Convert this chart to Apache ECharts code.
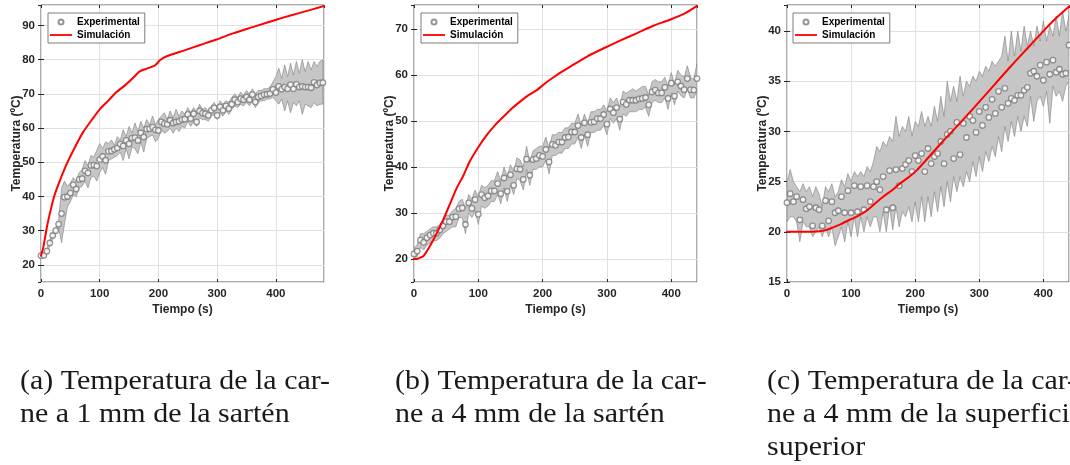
<!DOCTYPE html>
<html><head><meta charset="utf-8">
<script src="https://cdn.jsdelivr.net/npm/echarts@6/dist/echarts.min.js"></script>
<style>html,body{margin:0;padding:0;background:#fff}#c{width:1070px;height:465px}</style>
</head><body><div id="c"></div><script>
// ---- Data ----
const timeA = [0,5,10,15,20,25,30,35,40,45,50,55,60,65,70,75,80,85,90,95,100,105,110,115,120,125,130,135,140,145,150,155,160,165,170,175,180,185,190,195,200,205,210,215,220,225,230,235,240,245,250,255,260,265,270,275,280,285,290,295,300,305,310,315,320,325,330,335,340,345,350,355,360,365,370,375,380,385,390,395,400,405,410,415,420,425,430,435,440,445,450,455,460,465,470,475,480];
const timeBC = [0,5,10,15,20,25,30,35,40,45,50,55,60,65,70,75,80,85,90,95,100,105,110,115,120,125,130,135,140,145,150,155,160,165,170,175,180,185,190,195,200,205,210,215,220,225,230,235,240,245,250,255,260,265,270,275,280,285,290,295,300,305,310,315,320,325,330,335,340,345,350,355,360,365,370,375,380,385,390,395,400,405,410,415,420,425,430,435,440];

// Panel (a): 1 mm from pan
const expA = [22.7,22.8,24.0,26.4,28.6,30.0,31.9,35.0,39.8,40.0,
  41.0,43.4,42.2,45.0,45.2,47.5,46.9,49.1,49.2,48.9,
  50.8,51.7,50.6,53.2,53.3,53.8,54.2,55.3,54.8,56.4,
  55.4,57.1,57.2,56.4,58.6,57.4,59.7,59.8,60.3,59.5,
  59.3,61.8,61.3,61.1,62.3,61.5,61.8,62.0,62.5,62.6,
  64.0,62.8,64.2,61.8,65.0,64.4,64.2,63.7,65.2,65.9,
  63.7,66.2,65.2,66.5,65.7,67.0,68.3,67.6,68.6,68.3,
  69.1,68.3,69.8,67.6,69.1,69.4,69.8,69.9,70.1,71.3,
  70.4,72.2,71.4,72.0,71.5,72.7,71.5,72.8,72.0,72.2,
  72.0,72.0,71.8,73.4,72.6,73.2,73.3];
const hiA = [23.2,23.4,24.8,27.2,29.4,30.8,33.0,42.5,44.5,43.0,
  44.0,45.5,44.5,47.0,47.8,50.5,49.0,52.0,51.5,53.5,
  55.5,54.0,56.0,55.5,56.5,55.0,57.5,56.5,59.5,57.5,
  60.5,58.5,61.5,59.0,62.0,60.0,62.5,61.0,63.5,61.0,
  62.5,63.5,64.5,62.5,65.0,63.0,65.5,63.5,65.0,64.0,
  66.0,64.5,66.0,64.5,67.0,65.5,66.0,65.0,66.5,67.5,
  66.0,68.0,67.0,68.0,67.5,69.0,70.0,69.0,70.5,69.5,
  71.0,70.0,71.5,70.0,71.0,71.0,71.5,71.5,72.0,73.5,
  75.0,77.5,74.5,78.5,75.0,79.0,75.5,79.5,76.0,80.0,
  76.5,79.5,77.0,79.5,78.0,79.5,80.0];
const loA = [22.2,22.3,23.4,25.6,27.8,29.2,30.8,26.5,32.0,37.0,
  38.5,40.5,40.0,42.5,43.0,44.5,42.5,45.5,46.0,44.5,
  47.0,48.5,46.5,50.5,51.0,51.5,52.0,53.0,50.5,54.0,
  51.0,54.5,54.0,52.5,56.0,53.0,57.0,57.5,58.0,56.0,
  57.0,59.5,58.5,59.0,60.0,58.5,60.0,59.0,60.5,60.0,
  62.0,60.5,62.0,60.5,63.0,62.5,62.5,62.0,63.5,64.0,
  62.5,64.5,63.5,65.0,64.0,65.5,66.5,66.0,67.0,66.5,
  67.5,66.5,68.0,66.0,67.5,68.0,68.0,68.5,68.5,69.0,
  68.0,67.0,68.5,65.0,68.0,64.5,67.5,66.5,68.0,64.0,
  67.0,66.5,66.0,67.5,66.5,67.0,67.0];
const simTA = [0,4,10,15,22,30,44,58,72,86,100,115,129,143,157,168,180,194,203,214,242,271,299,327,356,384,412,441,482];
const simVA = [22.7,25.2,31.0,35.0,39.8,43.7,49.6,54.5,58.9,62.3,65.5,68.1,70.6,72.5,74.7,76.6,77.4,78.3,79.9,81.0,82.6,84.3,85.9,87.7,89.3,90.8,92.3,93.7,95.7];

// Panel (b): 4 mm from pan
const expB = [21.1,21.7,24.1,23.6,24.6,25.2,25.6,25.6,26.3,27.2,
  28.1,28.1,29.1,29.2,30.9,31.1,27.5,32.2,31.0,32.9,
  29.7,34.0,33.3,33.7,34.8,34.8,36.4,34.2,37.6,34.7,
  38.3,36.0,39.6,39.5,37.3,41.7,38.2,41.6,41.8,42.5,
  42.3,43.8,41.1,44.9,44.7,45.4,45.4,46.4,46.5,47.6,
  47.6,49.0,46.4,49.6,47.0,49.7,49.8,50.5,50.5,51.4,
  49.3,52.6,51.8,52.9,50.4,54.1,53.6,54.5,54.5,54.5,
  54.8,54.9,55.1,53.5,56.3,56.7,56.1,56.1,57.3,54.9,
  58.2,55.4,58.5,57.6,56.8,59.2,56.8,56.7,59.2];
const hiB = [22.5,23.0,25.5,25.5,26.0,26.5,27.0,27.0,27.5,28.5,
  29.5,29.5,30.5,31.0,32.5,33.0,31.0,34.0,33.0,35.0,
  33.5,36.0,35.5,36.0,37.0,37.0,39.0,37.0,40.0,38.0,
  40.5,39.0,42.0,41.5,40.0,44.5,41.0,43.5,44.0,44.5,
  44.5,46.5,44.0,47.0,47.0,47.5,47.5,48.5,48.5,49.5,
  49.5,51.5,49.0,51.5,49.5,52.0,52.0,52.5,52.5,53.5,
  52.0,55.0,54.0,55.0,53.0,56.5,56.0,56.5,57.0,56.5,
  57.0,57.5,57.5,55.5,58.5,59.0,58.5,58.5,59.5,57.5,
  60.5,58.0,61.0,60.0,59.5,62.0,59.5,59.0,62.5];
const loB = [20.0,20.5,22.5,22.0,23.0,23.5,24.0,24.0,24.5,25.5,
  26.0,26.5,27.0,27.0,29.0,29.0,25.5,30.0,29.0,30.5,
  27.5,31.5,31.0,31.5,32.5,32.5,34.0,32.0,35.5,32.5,
  36.0,34.0,37.5,37.0,35.0,39.5,36.0,39.5,39.5,40.0,
  40.0,41.5,38.5,42.5,42.5,43.0,43.0,44.0,44.0,45.0,
  45.0,46.5,44.0,47.0,44.5,47.5,47.5,48.0,48.0,49.0,
  47.0,50.5,49.5,50.5,48.0,51.5,51.0,52.0,52.0,52.0,
  52.5,52.5,53.0,51.0,54.0,54.5,54.0,54.0,55.0,52.5,
  56.0,53.5,56.5,55.5,55.0,57.0,55.0,55.0,56.5];
const simTB = [0,4,10,15,25,35,46,56,66,77,87,100,113,126,139,152,165,178,191,204,217,230,243,269,295,321,347,372,398,424,440];
const simVB = [20.0,20.0,20.3,20.7,22.9,25.5,28.7,32.0,35.3,38.2,41.3,44.3,46.9,49.1,50.9,52.7,54.2,55.6,56.7,58.2,59.5,60.7,61.8,64.0,65.8,67.5,69.1,70.7,72.0,73.6,75.0];

// Panel (c): 4 mm from top surface
const expC = [22.9,23.8,23.0,23.5,21.2,23.2,22.3,22.5,20.6,22.4,
  22.2,20.6,23.1,21.1,23.0,21.9,22.1,23.5,21.9,24.1,
  21.9,24.6,22.0,24.5,22.2,24.6,23.0,24.5,25.0,24.2,
  25.5,22.2,26.1,22.4,26.2,24.6,26.3,26.7,27.1,26.0,
  27.6,27.1,27.8,26.0,28.3,26.8,27.5,27.8,29.0,26.8,
  29.7,30.0,27.3,30.9,27.7,30.8,29.4,31.5,31.1,29.9,
  32.0,30.6,32.4,31.4,33.2,31.8,34.0,32.4,34.3,32.8,
  33.3,33.1,33.6,33.6,34.1,34.4,35.8,36.0,35.5,36.6,
  35.1,36.9,35.7,37.1,35.9,36.2,35.7,35.8,38.6];
const hiC = [25.0,26.2,25.0,24.5,24.0,24.8,24.0,24.5,23.5,24.5,
  23.8,22.5,24.5,24.0,24.8,23.5,24.0,25.2,24.5,25.8,
  25.0,26.0,25.5,26.0,25.5,26.5,26.0,27.0,28.5,28.0,
  29.0,28.5,29.5,29.0,31.5,29.5,30.5,30.0,31.5,29.5,
  31.0,30.5,32.0,30.5,31.5,30.5,32.5,31.0,33.5,31.5,
  35.0,33.0,34.5,33.0,35.5,33.5,35.0,34.5,35.5,35.0,
  36.0,35.5,36.5,36.0,37.0,36.5,37.0,37.5,39.5,37.0,
  40.0,37.5,40.0,38.0,40.5,38.5,40.0,38.5,40.5,39.0,
  41.0,39.0,40.5,39.5,41.5,39.5,42.0,40.0,41.5];
const loC = [21.0,21.5,21.5,21.0,19.0,21.0,20.5,20.5,19.5,20.0,
  20.5,19.5,20.5,19.5,20.5,18.6,19.5,20.5,19.0,21.0,
  19.5,21.5,19.5,21.5,20.0,21.5,20.5,21.5,21.5,20.0,
  22.0,20.0,22.5,20.2,22.5,20.5,22.0,21.5,22.5,21.0,
  23.0,21.0,23.5,21.0,23.5,21.5,24.0,22.0,24.5,22.5,
  25.0,23.0,25.5,24.0,25.5,24.5,26.0,25.0,27.0,25.5,
  27.5,26.0,28.0,27.0,28.5,27.5,29.5,28.0,30.5,29.0,
  31.0,29.5,31.5,30.0,31.5,30.5,33.5,31.0,33.0,33.5,
  32.5,34.0,30.8,34.5,33.5,34.0,33.0,34.5,35.0];
const simTC = [0,30,50,60,72,85,98,111,124,137,150,163,176,189,202,215,240,268,295,320,345,371,400,420,441];
const simVC = [20.0,20.0,20.05,20.15,20.45,20.8,21.2,21.6,22.1,22.8,23.5,24.1,24.8,25.4,26.1,27.0,28.8,30.7,32.6,34.4,36.2,38.0,40.0,41.3,42.5];

const legendNames = ['Experimental', 'Simulación'];
const axisNames = {x: 'Tiempo (s)', y: 'Temperatura (ºC)'};
const captions = [
  '(a) Temperatura de la car-\nne a 1 mm de la sartén',
  '(b) Temperatura de la car-\nne a 4 mm de la sartén',
  '(c) Temperatura de la car-\nne a 4 mm de la superficie\nsuperior'
];

// ---- Layout ----
const panels = [
  {left: 41, top: 5, width: 283, height: 277, xmax: 482, ymin: 15, ymax: 96, ysplit: 8, yint: null, t: timeA, exp: expA, lo: loA, hi: hiA, st: simTA, sv: simVA, legLeft: 48, capLeft: 20},
  {left: 414, top: 5, width: 283, height: 277, xmax: 440, ymin: 15, ymax: 75.2, ysplit: 6, yint: null, t: timeBC, exp: expB, lo: loB, hi: hiB, st: simTB, sv: simVB, legLeft: 421, capLeft: 395},
  {left: 787, top: 5, width: 282, height: 277, xmax: 440, ymin: 15, ymax: 42.6, ysplit: 5, yint: 5, t: timeBC, exp: expC, lo: loC, hi: hiC, st: simTC, sv: simVC, legLeft: 793, capLeft: 767}
];

const AX = '#262626';
const labelStyle = {color: AX, fontFamily: 'Liberation Sans, Arial, sans-serif', fontWeight: 'bold', fontSize: 11.5};
const grids = [], xAxes = [], yAxes = [], series = [], legends = [], graphics = [];

panels.forEach((p, i) => {
  grids.push({left: p.left, top: p.top, width: p.width, height: p.height, show: true, borderColor: '#595959', borderWidth: 1, backgroundColor: 'transparent'});
  xAxes.push({type: 'value', gridIndex: i, min: 0, max: p.xmax, interval: 100, position: 'bottom',
    axisLine: {show: false}, axisTick: {show: true, inside: true, length: 3, lineStyle: {color: AX}},
    axisLabel: Object.assign({margin: 6, showMaxLabel: false}, labelStyle),
    splitLine: {show: true, lineStyle: {color: '#e0e0e0', width: 1}},
    name: axisNames.x, nameLocation: 'middle', nameGap: 22, nameMoveOverlap: false,
    nameTextStyle: Object.assign({}, labelStyle, {fontSize: 12})});
  const y = {type: 'value', gridIndex: i, min: p.ymin, max: p.ymax, position: 'left',
    axisLine: {show: false}, axisTick: {show: true, inside: true, length: 3, lineStyle: {color: AX}},
    axisLabel: Object.assign({margin: 6, showMinLabel: p.yint ? true : false, showMaxLabel: false}, labelStyle),
    splitLine: {show: true, lineStyle: {color: '#e0e0e0', width: 1}},
    name: axisNames.y, nameLocation: 'middle', nameGap: 18, nameRotate: 90, nameMoveOverlap: false,
    nameTextStyle: Object.assign({}, labelStyle, {fontSize: 12})};
  if (p.yint) y.interval = p.yint; else y.splitNumber = p.ysplit;
  yAxes.push(y);

  // band (min-max envelope)
  series.push({type: 'custom', name: 'band', xAxisIndex: i, yAxisIndex: i, silent: true, z: 1, clip: true,
    data: [[p.t[0], p.lo[0]]],
    renderItem: function (params, api) {
      const pts = [];
      for (let k = 0; k < p.t.length; k++) pts.push(api.coord([p.t[k], p.hi[k]]));
      for (let k = p.t.length - 1; k >= 0; k--) pts.push(api.coord([p.t[k], p.lo[k]]));
      return {type: 'polygon', shape: {points: pts}, style: {fill: '#c6c6c6', stroke: '#7d7d7d', lineWidth: 0.6}};
    }});
  series.push({type: 'scatter', name: legendNames[0], xAxisIndex: i, yAxisIndex: i, z: 3,
    symbol: 'circle', symbolSize: 5.5,
    itemStyle: {color: '#ffffff', borderColor: '#7a7a7a', borderWidth: 1.3},
    data: p.t.map((t, k) => [t, p.exp[k]])});
  series.push({type: 'line', name: legendNames[1], xAxisIndex: i, yAxisIndex: i, z: 4,
    symbol: 'none', showSymbol: false, smooth: 0.2,
    lineStyle: {color: '#ff0000', width: 2, join: 'round', cap: 'round'},
    itemStyle: {color: '#ff0000'},
    data: p.st.map((t, k) => [t, p.sv[k]])});
  legends.push({left: p.legLeft, top: 13, orient: 'vertical', show: true,
    data: [{name: legendNames[0], icon: 'circle'}, {name: legendNames[1], icon: 'path://M0,0L24,0L24,2L0,2Z'}],
    padding: [3, 5, 2, 2], itemGap: 1, itemWidth: 22, itemHeight: 5,
    backgroundColor: '#ffffff', borderColor: '#7d7d7d', borderWidth: 1, borderRadius: 0,
    selectedMode: false,
    textStyle: {color: '#000', fontFamily: 'Liberation Sans, Arial, sans-serif', fontWeight: 'bold', fontSize: 10, lineHeight: 12}});
  graphics.push({type: 'text', x: p.capLeft, y: 365, scaleX: 1.11, silent: true,
    style: {text: captions[i], fontFamily: 'Liberation Serif, serif', fontSize: 27, lineHeight: 33, fill: '#1a1a1a', verticalAlign: 'top', align: 'left'}});
});

// secondary axes for ticks on top and right (box style)
panels.forEach((p, i) => {
  xAxes.push({type: 'value', gridIndex: i, min: 0, max: p.xmax, interval: 100, position: 'top',
    axisLine: {show: false}, axisTick: {show: true, inside: true, length: 3, lineStyle: {color: AX}},
    axisLabel: {show: false}, splitLine: {show: false}});
  const y2 = {type: 'value', gridIndex: i, min: p.ymin, max: p.ymax, position: 'right',
    axisLine: {show: false}, axisTick: {show: true, inside: true, length: 3, lineStyle: {color: AX}},
    axisLabel: {show: false}, splitLine: {show: false}};
  if (p.yint) y2.interval = p.yint; else y2.splitNumber = p.ysplit;
  yAxes.push(y2);
});

const chart = echarts.init(document.getElementById('c'), null, {renderer: 'canvas'});
chart.setOption({
  animation: false,
  backgroundColor: '#ffffff',
  legend: legends,
  grid: grids,
  xAxis: xAxes,
  yAxis: yAxes,
  series: series,
  graphic: graphics
});
</script></body></html>
